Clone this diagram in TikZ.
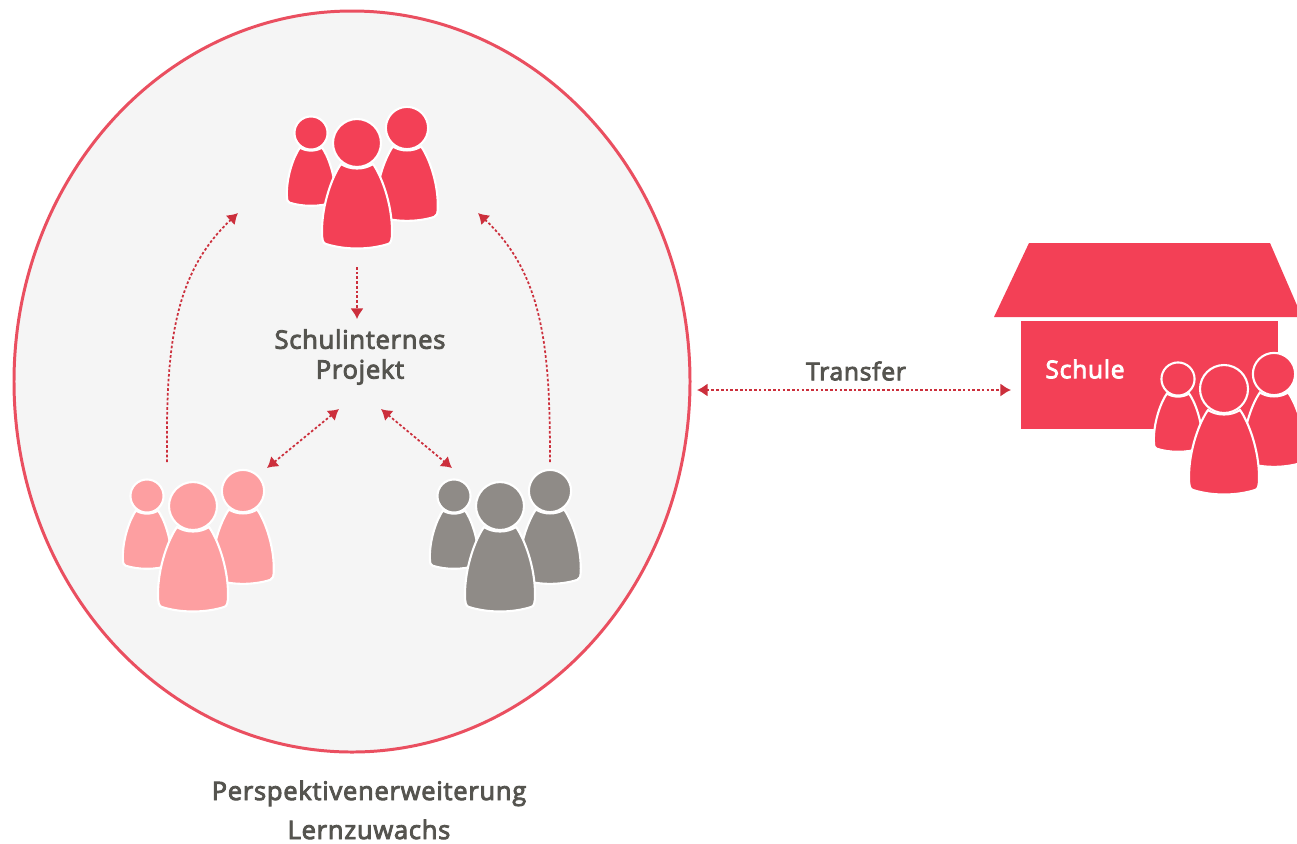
\documentclass[tikz,border=0pt]{standalone}
\usepackage{fontspec}
\setmainfont[LetterSpace=3,FakeBold=3.5]{Open Sans}
\usepackage{xcolor}
\usetikzlibrary{arrows.meta}
\definecolor{redfill}{HTML}{F34056}
\definecolor{ringred}{HTML}{EA4F60}
\definecolor{pinkfill}{HTML}{FD9FA1}
\definecolor{grayfill}{HTML}{8F8B87}
\definecolor{arrowred}{HTML}{CC2F3C}
\definecolor{labelgray}{HTML}{55544F}
\definecolor{discfill}{HTML}{F5F5F5}
\tikzset{
  label text/.style={text=labelgray,font=\fontsize{14.5}{17}\selectfont,align=center,inner sep=0pt},
  link/.style={arrowred,line width=1pt,dash pattern=on 1.5pt off 1.2pt,>={Latex[length=6pt,width=7.5pt]}},
  figure/.pic={
    \draw[fill=#1,draw=white,line width=1.2pt] (-16,21) .. controls (-24,32) and (-35,60) .. (-35,88)
      .. controls (-35,98) and (-34,100) .. (-31,101)
      .. controls (-12,107) and (12,107) .. (31,101)
      .. controls (34,100) and (35,98) .. (35,88)
      .. controls (35,60) and (24,32) .. (16,21)
      .. controls (7,27) and (-7,27) .. (-16,21) -- cycle;
    \draw[fill=#1,draw=white,line width=1.2pt] (0,0) circle (24);
  },
  group/.pic={
    \pic[scale=0.69] at (-46,-10) {figure=#1};
    \pic[scale=0.88] at (50,-15) {figure=#1};
    \pic at (0,0) {figure=#1};
  }
}
\begin{document}
\begin{tikzpicture}[x=0.02cm,y=-0.02cm]
        \useasboundingbox (0,0) rectangle (1297,843);
        % circle on the left
        \draw[fill=discfill,draw=ringred,line width=1.7pt] (352,381.5) ellipse (338 and 370.5);
        % school
        \fill[redfill] (1029,243) -- (1270,243) -- (1302,317) -- (994,317) -- cycle;
        \fill[redfill] (1021,321) rectangle (1278,429);
        \node[text=white,font=\fontsize{14}{15}\selectfont,inner sep=0pt] (schule) at (1085,369) {Schule};
        % people
        \pic at (357,143) {group=redfill};
        \pic at (193,506) {group=pinkfill};
        \pic at (500,506) {group=grayfill};
        \pic at (1224,389) {group=redfill};
        % labels
        \node[label text] (projekt) at (360,357) {Schulinternes\\Projekt};
        \node[label text,font=\fontsize{14}{17}\selectfont] (transfer) at (856,371) {Transfer};
        \node[label text,anchor=base] (gain) at (369,800) {Perspektivenerweiterung};
        \node[label text,anchor=base] (zuwachs) at (369,839) {Lernzuwachs};
        % end points of the arrows
        \coordinate (pinkup) at (167,462);
        \coordinate (topleft) at (238,213);
        \coordinate (grayup) at (550,462);
        \coordinate (topright) at (478,213);
        \coordinate (topdown) at (357,267);
        \coordinate (projekttop) at (357,319);
        \coordinate (projektleft) at (339,409);
        \coordinate (pinkend) at (267,468);
        \coordinate (projektright) at (381,409);
        \coordinate (grayend) at (452,468);
        \coordinate (ringend) at (697,390);
        \coordinate (schoolend) at (1011,390);
        % arrows
        \draw[->,link] (pinkup) .. controls (166,350) and (172,275) .. (topleft);
        \draw[->,link] (grayup) .. controls (550,350) and (544,275) .. (topright);
        \draw[->,link] (topdown) -- (projekttop);
        \draw[<->,link] (projektleft) -- (pinkend);
        \draw[<->,link] (projektright) -- (grayend);
        \draw[<->,link] (ringend) -- (schoolend);
\end{tikzpicture}
\end{document}
